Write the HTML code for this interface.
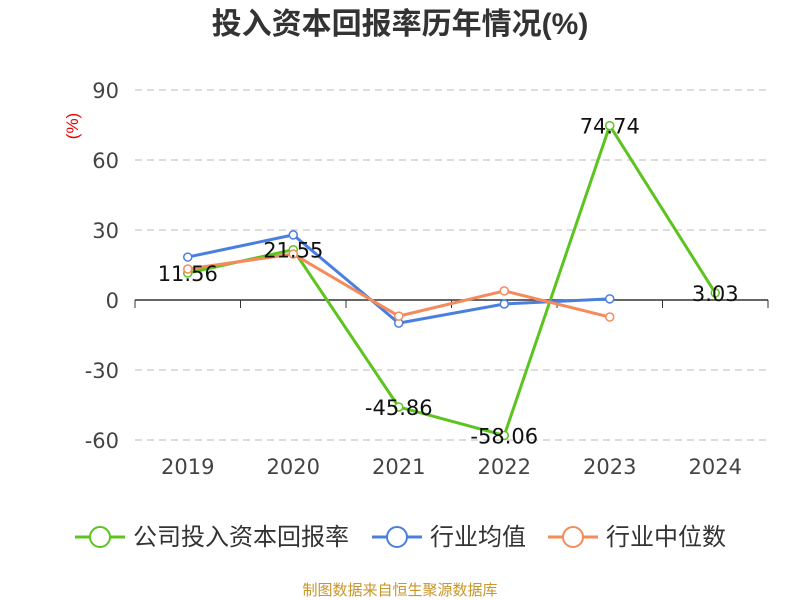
<!DOCTYPE html>
<html><head><meta charset="utf-8">
<style>
body{margin:0;background:#fff;}
svg{display:block;font-family:"Liberation Sans","Noto Sans CJK SC",sans-serif;}
.num{font-family:"DejaVu Sans","Liberation Sans",sans-serif;}
</style></head>
<body>
<svg id="chart" width="800" height="600" viewBox="0 0 800 600">
<text x="400" y="34" text-anchor="middle" font-size="30" font-weight="bold" fill="#333">投入资本回报率历年情况(%)</text>
<text transform="translate(78,126) rotate(-90)" text-anchor="middle" font-size="17" fill="#e00">(%)</text>
<g id="grid"></g><g id="axes"></g><g id="series"></g><g id="labels"></g>
<g id="legend"></g>
<text x="400" y="595" text-anchor="middle" font-size="15" fill="#c8962a">制图数据来自恒生聚源数据库</text>
</svg>
<script>
const categories=["2019","2020","2021","2022","2023","2024"];
const companyValues=[11.56,21.55,-45.86,-58.06,74.74,3.03];
const industryAvg=[18.4,27.9,-9.9,-1.7,0.5];
const industryMedian=[13.3,19.7,-6.9,3.9,-7.3];
const yTicks=[90,60,30,0,-30,-60];
const seriesNames=["公司投入资本回报率","行业均值","行业中位数"];
const colors=["#5cc41f","#4a7fe0","#f58a5a"];
const NS="http://www.w3.org/2000/svg";
const x0=135,x1=768,yTop=90,yBot=440,vMax=90,vMin=-60;
const band=(x1-x0)/categories.length;
function xs(i){return x0+band*(i+0.5);}
function ys(v){return yTop+(vMax-v)/(vMax-vMin)*(yBot-yTop);}
function mk(tag,attrs,parent){const e=document.createElementNS(NS,tag);for(const k in attrs)e.setAttribute(k,attrs[k]);parent.appendChild(e);return e;}
const grid=document.getElementById('grid'),axes=document.getElementById('axes'),ser=document.getElementById('series'),lab=document.getElementById('labels'),leg=document.getElementById('legend');
yTicks.forEach(t=>{
 if(t!==0){const l=mk('line',{x1:x0,x2:x1,y1:ys(t),y2:ys(t),stroke:'#bbb','stroke-dasharray':'7,5'},grid);
 
 }
 const tx=mk('text',{x:x0-16,y:ys(t)+8,'text-anchor':'end','font-size':21,fill:'#444',class:'num'},axes);
 tx.textContent=t;
 
 
});
const ax=mk('line',{x1:x0,x2:x1,y1:ys(0),y2:ys(0),stroke:'#333','stroke-width':1.5},axes);


for(let i=0;i<=categories.length;i++){const tk=mk('line',{x1:x0+band*i,x2:x0+band*i,y1:ys(0),y2:ys(0)+8,stroke:'#333'},axes);
 
 }
categories.forEach((c,i)=>{const t=mk('text',{x:xs(i),y:474,'text-anchor':'middle','font-size':21,fill:'#444',class:'num'},axes);t.textContent=c;
 
 });
function drawSeries(vals,color,name){
 const pts=vals.map((v,i)=>xs(i)+','+ys(v)).join(' ');
 const pl=mk('polyline',{points:pts,fill:'none',stroke:color,'stroke-width':3},ser);
 
 
 vals.forEach((v,i)=>{const c=mk('circle',{cx:xs(i),cy:ys(v),r:4,fill:'#fff',stroke:color,'stroke-width':1.5},ser);
  
  });
}
drawSeries(companyValues,colors[0],'company');
drawSeries(industryAvg,colors[1],'industry-avg');
drawSeries(industryMedian,colors[2],'industry-median');
companyValues.forEach((v,i)=>{const t=mk('text',{x:xs(i),y:ys(v)+8,'text-anchor':'middle','font-size':21,fill:'#111',class:'num'},lab);t.textContent=v.toFixed(2);
 
 });
const legX=[75,372,548];
seriesNames.forEach((n,i)=>{
 const g=mk('g',{},leg);
 
 
 mk('line',{x1:legX[i],x2:legX[i]+50,y1:537,y2:537,stroke:colors[i],'stroke-width':3},g);
 mk('circle',{cx:legX[i]+25,cy:537,r:10,fill:'#fff',stroke:colors[i],'stroke-width':2},g);
 const t=mk('text',{x:legX[i]+58,y:545,'font-size':24,fill:'#333'},g);t.textContent=n;
});
</script>
</body></html>
